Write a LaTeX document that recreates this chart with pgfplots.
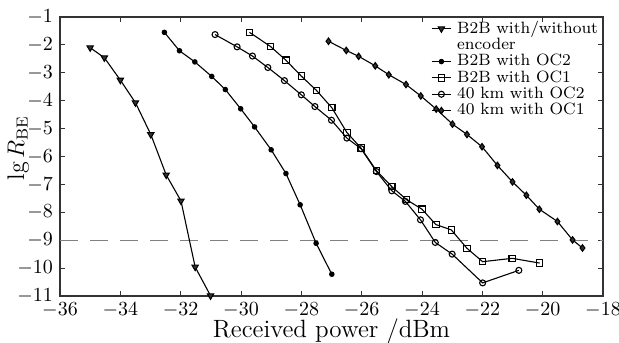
\documentclass[border=0pt]{standalone}
\usepackage{fontspec}
\usepackage{pgfplots}
\pgfplotsset{compat=1.18}
\begin{document}
\begin{tikzpicture}
\begin{axis}[
  scale only axis,
  width=271.5pt, height=139.5pt,
  xmin=-36, xmax=-18, ymin=-11, ymax=-1,
  xtick={-36,-34,...,-18}, ytick={-11,-10,...,-1},
  tick align=inside, major tick length=2.5pt,
  axis line style={line width=0.6pt, black!80},
  every tick/.style={black!80, line width=0.4pt},
  ticklabel style={font=\fontsize{10}{10}\selectfont},
  xlabel={Received power /dBm},
  ylabel={$\lg R_{\mathrm{BE}}$},
  every axis x label/.style={at={(axis description cs:0.5,-0.128)}, anchor=center, font=\fontsize{12.5}{12.5}\selectfont},
  every axis y label/.style={at={(axis description cs:-0.077,0.53)}, anchor=center, rotate=90, font=\fontsize{12}{12}\selectfont},
  every axis plot/.append style={line width=0.55pt, black},
  legend cell align=left,
  legend style={draw=none, fill=none, at={(1,1)}, anchor=north east, xshift=-2pt, yshift=-1.5pt,
    font=\fontsize{8.2}{8}\selectfont, row sep=0.3pt, inner sep=0pt, /tikz/column sep=2.5pt,
    nodes={inner sep=0.3pt}},
  legend image code/.code={\draw[mark repeat=2,mark phase=2] plot coordinates {(0cm,0cm) (0.17cm,0cm) (0.34cm,0cm)};},
]
\addplot[forget plot, gray, dash pattern=on 9pt off 6pt, line width=0.7pt] coordinates {(-36,-9) (-18,-9)};

\addplot[mark=triangle*, mark options={rotate=180, fill=black!80}, mark size=1.8pt] coordinates {
(-35.0,-2.10) (-34.53,-2.46) (-34.0,-3.26) (-33.5,-4.07) (-32.99,-5.21)
(-32.48,-6.66) (-31.99,-7.59) (-31.52,-9.96) (-31.01,-10.99)};
\addlegendentry{B2B with/without}
\addlegendimage{empty legend}
\addlegendentry{encoder}

\addplot[mark=*, mark size=1.1pt] coordinates {
(-32.54,-1.55) (-32.04,-2.21) (-31.53,-2.61) (-30.97,-3.13) (-30.52,-3.60)
(-30.01,-4.29) (-29.55,-4.94) (-29.0,-5.76) (-28.51,-6.61) (-28.04,-7.73)
(-27.51,-9.11) (-26.99,-10.22)};
\addlegendentry{B2B with OC2}

\addplot[mark=square, mark options={solid}, mark size=1.6pt] coordinates {
(-29.72,-1.55) (-29.03,-2.05) (-28.51,-2.55) (-28.0,-3.12) (-27.5,-3.63)
(-26.99,-4.25) (-26.49,-5.14) (-26.02,-5.70) (-25.51,-6.51) (-25.0,-7.08)
(-24.51,-7.55) (-24.0,-7.89) (-23.54,-8.44) (-23.03,-8.63) (-22.51,-9.29)
(-21.99,-9.77) (-21.01,-9.65) (-20.10,-9.82)};
\addlegendentry{B2B with OC1}

\addplot[mark=o, mark size=1.5pt] coordinates {
(-30.86,-1.63) (-30.13,-2.07) (-29.62,-2.40) (-29.11,-2.81) (-28.56,-3.28)
(-28.0,-3.79) (-27.55,-4.21) (-27.0,-4.70) (-26.49,-5.34) (-26.02,-5.72)
(-25.51,-6.54) (-25.0,-7.23) (-24.55,-7.61) (-24.05,-8.27) (-23.56,-9.08)
(-23.0,-9.50) (-21.99,-10.53) (-20.79,-10.08)};
\addlegendentry{40 km with OC2}

\addplot[mark=diamond*, mark options={fill=black!80}, mark size=1.6pt] coordinates {
(-27.1,-1.87) (-26.51,-2.20) (-26.1,-2.41) (-25.55,-2.75) (-25.1,-3.07)
(-24.53,-3.42) (-24.04,-3.83) (-23.53,-4.30) (-22.99,-4.84) (-22.51,-5.21)
(-22.01,-5.65) (-21.50,-6.32) (-21.0,-6.91) (-20.54,-7.39) (-20.11,-7.89)
(-19.51,-8.33) (-19.01,-8.99) (-18.68,-9.28)};
\addlegendentry{40 km with OC1}
\end{axis}
\pgfresetboundingbox
\path[use as bounding box] ([shift={(-30pt,-23pt)}]current axis.south west) rectangle ([shift={(8pt,8.5pt)}]current axis.north east);
\end{tikzpicture}
\end{document}
